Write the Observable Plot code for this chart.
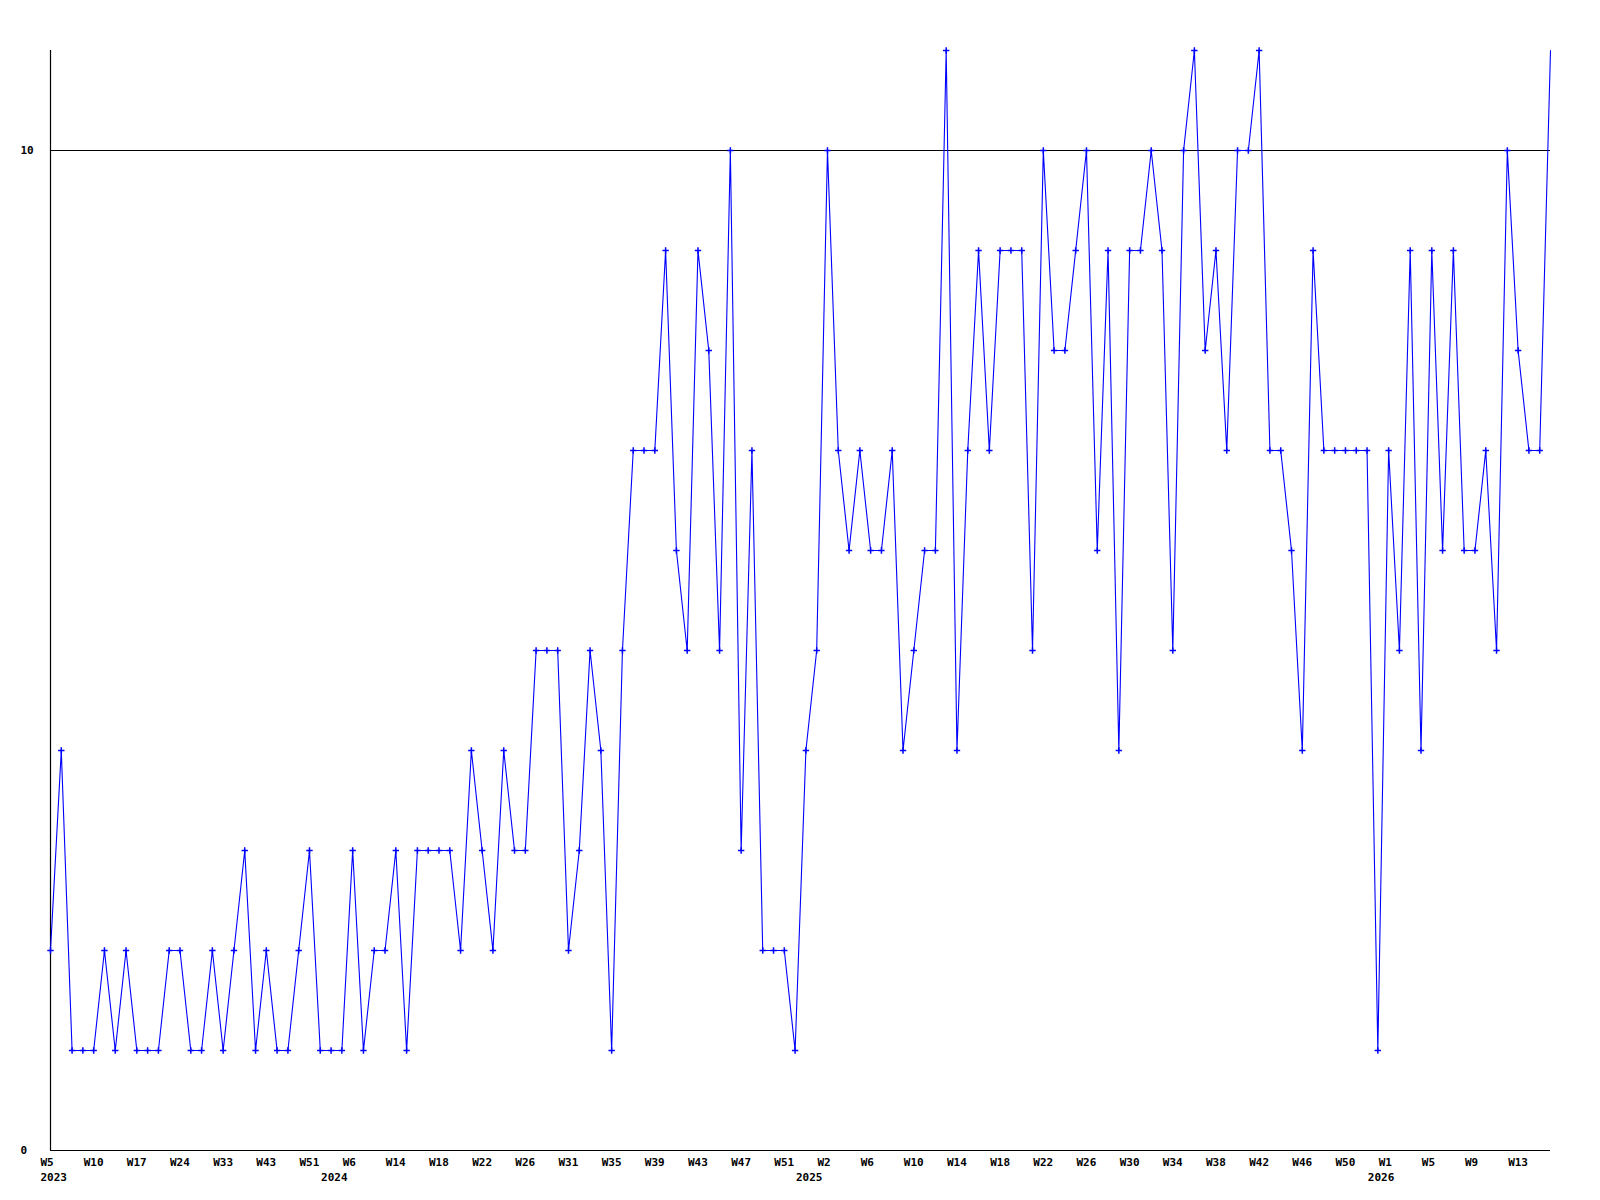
<!DOCTYPE html>
<html>
<head>
<meta charset="utf-8">
<script src="https://cdn.jsdelivr.net/npm/d3@7"></script>
<script src="https://cdn.jsdelivr.net/npm/@observablehq/plot@0.6"></script>
<style>
  html, body { margin: 0; padding: 0; background: #fff; }
  #chart svg { display: block; }
</style>
</head>
<body>
<div id="chart"></div>
<script>
// Series values, one per sampled week (in order)
const values = [
  2,4,1,1,1,2,1,2,1,1,
  1,2,2,1,1,2,1,2,3,1,
  2,1,1,2,3,1,1,1,3,1,
  2,2,3,1,3,3,3,3,2,4,
  3,2,4,3,3,5,5,5,2,3,
  5,4,1,5,7,7,7,9,6,5,
  9,8,5,10,3,7,2,2,2,1,
  4,5,10,7,6,7,6,6,7,4,
  5,6,6,11,4,7,9,7,9,9,
  9,5,10,8,8,9,10,6,9,4,
  9,9,10,9,5,10,11,8,9,7,
  10,10,11,7,7,6,4,9,7,7,
  7,7,7,1,7,5,9,4,9,6,
  9,6,6,7,5,10,8,7,7,11
];

// Week tick labels, one every 4th sample starting at the first
const weekLabels = ["W5","W10","W17","W24","W33","W43","W51","W6","W14","W18","W22","W26",
  "W31","W35","W39","W43","W47","W51","W2","W6","W10","W14","W18","W22","W26",
  "W30","W34","W38","W42","W46","W50","W1","W5","W9","W13"];
const weekStep = 4;

// Year labels and the sample index where each year label sits
const yearLabels = ["2023","2024","2025","2026"];
const yearIndex = [0, 26, 70, 123];

// Y tick labels
const yTicks = [0, 10];

const data = values.map((v, i) => ({i, v}));
const weekTicks = weekLabels.map((_, k) => k * weekStep);
const weekMap = new Map(weekTicks.map((t, k) => [t, weekLabels[k]]));
const yearMap = new Map(yearIndex.map((t, k) => [t, yearLabels[k]]));

const blue = "#0000ff";

const chart = Plot.plot({
  width: 1600,
  height: 1200,
  marginLeft: 50,
  marginRight: 50,
  marginTop: 50,
  marginBottom: 50,
  style: {
    fontFamily: "'DejaVu Sans Mono', monospace",
    fontSize: "11px",
    fontWeight: "bold",
    background: "#fff",
    color: "#000"
  },
  x: {domain: [0, values.length - 1]},
  y: {domain: [0, 11]},
  marks: [
    Plot.ruleY([10], {stroke: "#000", strokeWidth: 1}),
    Plot.ruleY([0], {stroke: "#000", strokeWidth: 1.2}),
    Plot.ruleX([0], {stroke: "#000", strokeWidth: 1.2}),
    Plot.line(data, {x: "i", y: "v", stroke: blue, strokeWidth: 1.1}),
    Plot.dot(data.slice(0, -1), {x: "i", y: "v", symbol: "plus", r: 2.2, stroke: blue, strokeWidth: 1.5}),
    Plot.axisY({
      ticks: yTicks,
      tickSize: 0,
      tickPadding: 30,
      textAnchor: "start",
      tickFormat: d => String(d),
      label: null
    }),
    Plot.axisX({
      ticks: weekTicks,
      tickSize: 0,
      tickPadding: 8,
      textAnchor: "start",
      dx: -10,
      tickFormat: d => weekMap.get(d),
      label: null
    }),
    Plot.axisX({
      ticks: yearIndex,
      tickSize: 0,
      tickPadding: 23,
      textAnchor: "start",
      dx: -10,
      tickFormat: d => yearMap.get(d),
      label: null
    })
  ]
});

document.getElementById("chart").appendChild(chart);
</script>
</body>
</html>
